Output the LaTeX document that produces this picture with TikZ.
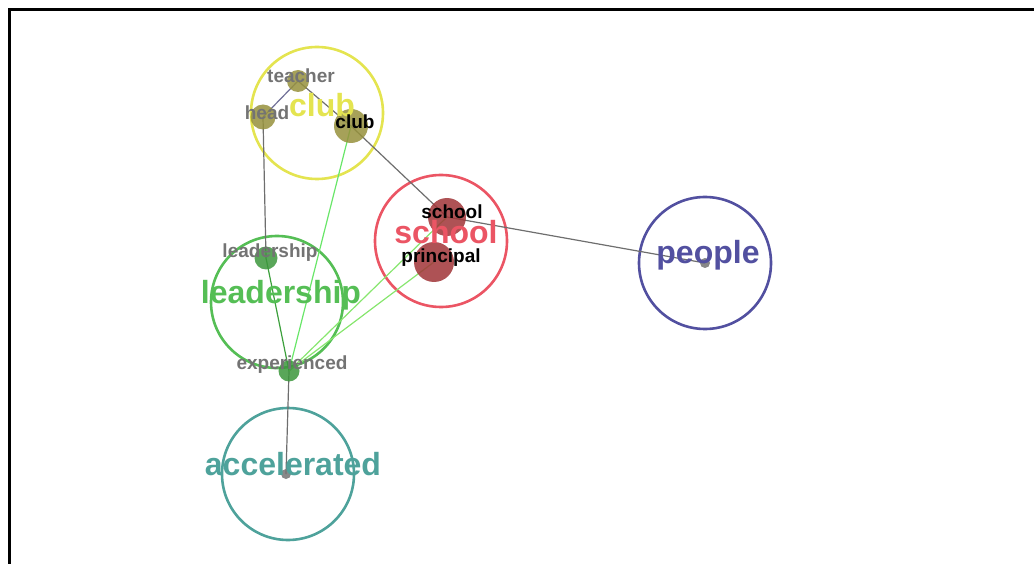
\documentclass[tikz,border=0pt]{standalone}
\usepackage{fontspec}
\setmainfont{Liberation Sans}
\usepackage{tikz}
\usetikzlibrary{calc}

\begin{document}
\begin{tikzpicture}[x=1pt,y=-1pt,
    topic/.style={circle, draw, line width=2.6pt, minimum size=132pt, inner sep=0pt},
    toplabel/.style={font=\fontsize{32}{32}\selectfont\bfseries, inner sep=0pt},
    term/.style={circle, fill opacity=0.85, inner sep=0pt},
    termlabel/.style={font=\fontsize{19}{19}\selectfont\bfseries, inner sep=0pt},
    link/.style={line width=1.2pt, linkgray}]
    % Define colors for each topic
    \definecolor{clubcolor}{RGB}{228,228,80}    % Yellow
    \definecolor{schoolcolor}{RGB}{235,85,100}  % Red
    \definecolor{peoplecolor}{RGB}{82,80,160}   % Indigo
    \definecolor{leadcolor}{RGB}{85,190,85}     % Green
    \definecolor{accelcolor}{RGB}{78,162,155}   % Teal
    \definecolor{olivedot}{RGB}{150,145,60}
    \definecolor{reddot}{RGB}{160,52,55}
    \definecolor{greendot}{RGB}{60,150,60}
    \definecolor{linkgray}{RGB}{110,110,110}
    \definecolor{linkpurple}{RGB}{110,110,150}
    \definecolor{linklime}{RGB}{105,230,105}
    \definecolor{linkgreen}{RGB}{60,160,60}
    \definecolor{linkpale}{RGB}{135,230,110}
    \definecolor{termgray}{RGB}{115,115,115}

    % Frame
    \useasboundingbox (0,0) rectangle (1034,564);
    \draw[line width=3pt] (9,564) -- (9,10) -- (1034,10);

    % Topic circles
    \foreach \name/\x/\y/\col in {
        cClub/317/113/clubcolor,
        cSchool/441/241/schoolcolor,
        cPeople/705/263/peoplecolor,
        cLead/277/302/leadcolor,
        cAccel/288/474/accelcolor} {
        \node[topic, draw=\col] (\name) at (\x,\y) {};
    }

    % Term positions
    \coordinate (teacher) at (298,81);
    \coordinate (head) at (263,117);
    \coordinate (club) at (351,126);
    \coordinate (school) at (447,217);
    \coordinate (principal) at (434,262);
    \coordinate (leadership) at (266,258);
    \coordinate (experienced) at (289,371);
    \coordinate (people) at (705,263);
    \coordinate (accelerated) at (286,474);

    % Links
    \draw[link, linkpurple] (teacher) -- (head);
    \draw[link] (teacher) -- (club);
    \draw[link] (club) -- (school);
    \draw[link] (school) -- (people);
    \draw[link] (head) -- (leadership);
    \draw[link] (experienced) -- (accelerated);
    \draw[link, linklime] (club) -- (experienced);
    \draw[link, linkgreen] (leadership) -- (experienced);
    \draw[link, linkpale] (experienced) -- (school);
    \draw[link, linkpale] (experienced) -- (principal);

    % Term dots
    \foreach \name/\size/\col in {
        teacher/22/olivedot, head/25/olivedot, club/34/olivedot,
        school/38/reddot, principal/40/reddot,
        leadership/23/greendot, experienced/21/greendot,
        people/10/termgray, accelerated/10/termgray} {
        \node[term, fill=\col, minimum size=\size pt] (\name dot) at (\name) {};
    }

    % Topic labels
    \node[toplabel, clubcolor] (tClub) at (322,105) {club};
    \node[toplabel, schoolcolor] (tSchool) at (446,232) {school};
    \node[toplabel, peoplecolor] (tPeople) at (708,255) {people};
    \node[toplabel, leadcolor] (tLead) at (281,295) {leadership};
    \node[toplabel, accelcolor] (tAccel) at (293,464) {accelerated};

    % Term labels
    \node[termlabel, termgray] (lTeacher) at (301,76) {teacher};
    \node[termlabel, termgray] (lHead) at (267,113) {head};
    \node[termlabel] (lClub) at (355,122) {club};
    \node[termlabel] (lSchool) at (452,212) {school};
    \node[termlabel] (lPrincipal) at (441,258) {principal};
    \node[termlabel, termgray] (lLeadership) at (270,253) {leadership};
    \node[termlabel, termgray] (lExperienced) at (292,365) {experienced};
\end{tikzpicture}
\end{document}
